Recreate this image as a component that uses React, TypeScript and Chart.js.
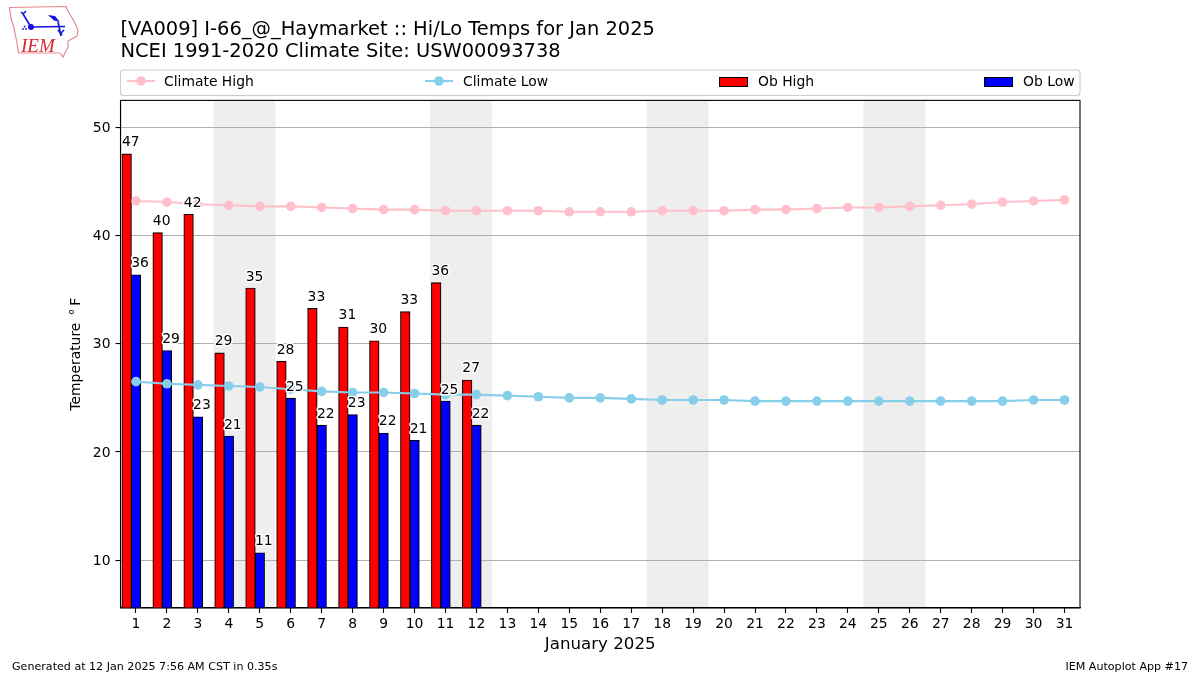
import React, { useEffect, useRef } from "react";
import { Chart, registerables } from "chart.js";

Chart.register(...registerables);

const titleLines = ["[VA009] I-66_@_Haymarket :: Hi/Lo Temps for Jan 2025", "NCEI 1991-2020 Climate Site: USW00093738"];
const xTitle = "January 2025";
const yTitle = "Temperature \u2009\u00B0\u2009F";
const footerLeft = "Generated at 12 Jan 2025 7:56 AM CST in 0.35s";
const footerRight = "IEM Autoplot App #17";
const days = [1,2,3,4,5,6,7,8,9,10,11,12,13,14,15,16,17,18,19,20,21,22,23,24,25,26,27,28,29,30,31];
const weekendSpans = [[4,5],[11,12],[18,19],[25,26]];
const climateHigh = [43.2,43.1,42.9,42.8,42.7,42.7,42.6,42.5,42.4,42.4,42.3,42.3,42.3,42.3,42.2,42.2,42.2,42.3,42.3,42.3,42.4,42.4,42.5,42.6,42.6,42.7,42.8,42.9,43.1,43.2,43.3];
const climateLow = [26.5,26.3,26.2,26.1,26.0,25.8,25.6,25.5,25.5,25.4,25.3,25.3,25.2,25.1,25.0,25.0,24.9,24.8,24.8,24.8,24.7,24.7,24.7,24.7,24.7,24.7,24.7,24.7,24.7,24.8,24.8];
const obHigh = [47.55,40.27,41.97,29.15,35.15,28.38,33.27,31.55,30.27,32.97,35.65,26.65];
const obLow = [36.37,29.37,23.25,21.47,10.67,24.97,22.47,23.45,21.75,21.08,24.7,22.47];
const obHighLabels = ["47","40","42","29","35","28","33","31","30","33","36","27"];
const obLowLabels = ["36","29","23","21","11","25","22","23","22","21","25","22"];

const FONT = "'DejaVu Sans'";

const weekendPlugin = {
  id: "weekends",
  beforeDraw(chart: any) {
    const { ctx, chartArea: a, scales: { x } } = chart;
    ctx.save();
    ctx.fillStyle = "#eeeeee";
    weekendSpans.forEach(([d0, d1]) => {
      const l = x.getPixelForValue(d0 - 0.5);
      const r = x.getPixelForValue(d1 + 0.5);
      ctx.fillRect(l, a.top, r - l, a.bottom - a.top);
    });
    ctx.restore();
  },
};

const labelPlugin = {
  id: "barLabels",
  afterDatasetsDraw(chart: any) {
    const { ctx } = chart;
    ctx.save();
    ctx.font = `13.9px ${FONT}`;
    ctx.textAlign = "left";
    ctx.textBaseline = "alphabetic";
    ctx.lineJoin = "round";
    ([[2, obHighLabels], [3, obLowLabels]] as [number, string[]][]).forEach(([i, labels]) => {
      const meta = chart.getDatasetMeta(i);
      meta.data.forEach((bar: any, j: number) => {
        const t = labels[j];
        const px = bar.x - bar.width / 2;
        const py = bar.y - 7.5;
        ctx.lineWidth = 3;
        ctx.strokeStyle = "#ffffff";
        ctx.strokeText(t, px, py);
        ctx.fillStyle = "#000000";
        ctx.fillText(t, px, py);
      });
    });
    ctx.restore();
  },
};

const framePlugin = {
  id: "frame",
  afterDraw(chart: any) {
    const { ctx, chartArea: a } = chart;
    ctx.save();
    // axes frame
    ctx.strokeStyle = "#000";
    ctx.lineWidth = 1.1;
    ctx.strokeRect(a.left, a.top, a.right - a.left, a.bottom - a.top);

    // legend
    ctx.strokeStyle = "#cccccc";
    ctx.fillStyle = "#ffffff";
    ctx.lineWidth = 1.1;
    ctx.beginPath();
    ctx.roundRect(120.5, 70, 959.5, 25.5, 3);
    ctx.fill();
    ctx.stroke();
    ctx.font = `13.9px ${FONT}`;
    ctx.textBaseline = "alphabetic";
    ctx.textAlign = "left";
    chart.data.datasets.forEach((ds: any, i: number) => {
      const hx = [127, 425, 719, 984][i];
      const tx = [164, 463, 758, 1023][i];
      if (ds.type === "line") {
        ctx.strokeStyle = ds.borderColor;
        ctx.lineWidth = 2.1;
        ctx.beginPath();
        ctx.moveTo(hx, 81);
        ctx.lineTo(hx + 28, 81);
        ctx.stroke();
        ctx.fillStyle = ds.borderColor;
        ctx.beginPath();
        ctx.arc(hx + 14, 81, 4.8, 0, Math.PI * 2);
        ctx.fill();
      } else {
        ctx.fillStyle = ds.backgroundColor;
        ctx.strokeStyle = "#000";
        ctx.lineWidth = 1;
        ctx.fillRect(hx, 77, 28, 9.5);
        ctx.strokeRect(hx + 0.5, 77.5, 28, 9);
      }
      ctx.fillStyle = "#000";
      ctx.fillText(ds.label, tx, 86);
    });

    // footers
    ctx.fillStyle = "#000";
    ctx.font = `11.1px ${FONT}`;
    ctx.fillText(footerLeft, 12, 670);
    ctx.textAlign = "right";
    ctx.fillText(footerRight, 1188, 670);

    // logo
    ctx.strokeStyle = "#e58a90";
    ctx.lineWidth = 1.2;
    ctx.beginPath();
    const outline = [[9.5,7.5],[66,6.5],[69,13],[74,21],[78,30],[77,36],[68,41],[68,47],[65,53],[63,57],[60,53],[18.5,53],[17,43],[14,28],[11,18]];
    outline.forEach(([x, y], i) => (i ? ctx.lineTo(x, y) : ctx.moveTo(x, y)));
    ctx.closePath();
    ctx.stroke();
    ctx.strokeStyle = "#1414d8";
    ctx.fillStyle = "#1414d8";
    ctx.lineWidth = 1.6;
    const segs = [[[31,27],[65,26.5]],[[31,27],[23,14]],[[23,14],[21,12]],[[23,14],[26,11]],[[58,22],[61,36]],[[61,33],[64,30]],[[58,30],[62,35]]];
    segs.forEach(([p, q]) => { ctx.beginPath(); ctx.moveTo(p[0], p[1]); ctx.lineTo(q[0], q[1]); ctx.stroke(); });
    ctx.beginPath(); ctx.arc(31, 27, 3, 0, Math.PI * 2); ctx.fill();
    ctx.beginPath(); ctx.moveTo(48, 15); ctx.lineTo(55, 16); ctx.lineTo(60, 22); ctx.lineTo(54, 20.5); ctx.closePath(); ctx.fill();
    [[23,29],[26,29],[24.5,26.5]].forEach(([x, y]) => { ctx.beginPath(); ctx.arc(x, y, 0.9, 0, Math.PI * 2); ctx.fill(); });
    ctx.fillStyle = "#d8262e";
    ctx.font = "italic 19px 'Liberation Serif'";
    ctx.textAlign = "left";
    ctx.fillText("IEM", 21, 52);
    ctx.restore();
  },
};

export default function App() {
  const ref = useRef<HTMLCanvasElement>(null);
  useEffect(() => {
    document.body.style.margin = "0";
    document.body.style.background = "#fff";
    const chart = new Chart(ref.current as HTMLCanvasElement, {
      type: "bar",
      data: {
        datasets: [
          {
            type: "line", label: "Climate High", order: 1,
            data: days.map((d, i) => ({ x: d, y: climateHigh[i] })),
            borderColor: "#ffc0cb", backgroundColor: "#ffc0cb", borderWidth: 2.1,
            pointRadius: 4.8, pointBorderWidth: 0, pointBackgroundColor: "#ffc0cb", tension: 0,
          },
          {
            type: "line", label: "Climate Low", order: 1,
            data: days.map((d, i) => ({ x: d, y: climateLow[i] })),
            borderColor: "#87ceeb", backgroundColor: "#87ceeb", borderWidth: 2.1,
            pointRadius: 4.8, pointBorderWidth: 0, pointBackgroundColor: "#87ceeb", tension: 0,
          },
          {
            type: "bar", label: "Ob High", order: 2, grouped: false,
            data: obHigh.map((v, i) => ({ x: days[i] - 0.3, y: v })),
            backgroundColor: "#ff0000", borderColor: "#000", borderWidth: 1.1, barThickness: 9.6,
          },
          {
            type: "bar", label: "Ob Low", order: 2, grouped: false,
            data: obLow.map((v, i) => ({ x: days[i], y: v })),
            backgroundColor: "#0000ff", borderColor: "#000", borderWidth: 1.1, barThickness: 9.6,
          },
        ] as any,
      },
      options: {
        responsive: false,
        animation: false,
        devicePixelRatio: 1,
        layout: { padding: { left: 68, right: 120, top: 0, bottom: 20 } },
        plugins: {
          legend: { display: false },
          tooltip: { enabled: false },
          title: {
            display: true,
            text: titleLines,
            align: "start",
            fullSize: false,
            color: "#000",
            font: { family: FONT, size: 19.44, weight: "normal", lineHeight: 1.18 },
            padding: { top: 18, bottom: 36.5 },
          },
        },
        scales: {
          x: {
            type: "linear",
            min: 0.5,
            max: 31.5,
            offset: false,
            afterFit: (s: any) => { s.height = 47; },
            afterBuildTicks: (s: any) => { s.ticks = days.map((d) => ({ value: d })); },
            grid: { offset: false, drawOnChartArea: false, drawTicks: true, tickLength: 5, tickColor: "#000", tickWidth: 1.1 },
            border: { color: "#000", width: 1.1 },
            ticks: { color: "#000", font: { family: FONT, size: 13.9 }, padding: 3.5, maxRotation: 0, autoSkip: false, callback: (v: any) => String(v) },
            title: { display: true, text: xTitle, color: "#000", font: { family: FONT, size: 16.67 }, padding: { top: 3, bottom: 0 } },
          },
          y: {
            type: "linear",
            min: 5.57,
            max: 52.5,
            afterFit: (s: any) => { s.width = 52.5; },
            afterBuildTicks: (s: any) => { s.ticks = [10, 20, 30, 40, 50].map((v) => ({ value: v })); },
            grid: { color: "#b0b0b0", lineWidth: 1.1, tickLength: 5, tickColor: "#000", tickWidth: 1.1 },
            border: { color: "#000", width: 1.1 },
            ticks: { color: "#000", font: { family: FONT, size: 13.9 }, padding: 5, labelOffset: 1, callback: (v: any) => String(v) },
            title: { display: true, text: yTitle, color: "#000", font: { family: FONT, size: 13.9 }, padding: { top: 0, bottom: 14 } },
          },
        },
      } as any,
      plugins: [weekendPlugin, labelPlugin, framePlugin],
    });
    return () => chart.destroy();
  }, []);
  return (
    <div style={{ width: 1200, height: 675 }}>
      <canvas ref={ref} width={1200} height={675} style={{ display: "block" }} />
    </div>
  );
}
